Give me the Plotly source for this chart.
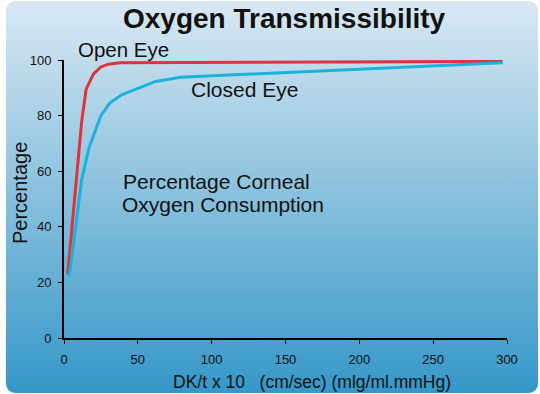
import base64
import plotly.graph_objects as go

# ---- data ----
open_x = [2.5, 12, 15, 20, 25, 30, 38, 297]
open_y = [23, 78, 89.5, 95, 97.5, 98.5, 99, 99.5]
closed_x = [3.5, 12, 17, 25, 31, 39, 62, 79, 297]
closed_y = [22, 57, 68.5, 80, 84.5, 87.5, 92.3, 93.8, 99]
x_ticks = [0, 50, 100, 150, 200, 250, 300]
y_ticks = [0, 20, 40, 60, 80, 100]

W, H = 540, 394
L, R, T, B = 64, 33, 60, 56
PW, PH = W - L - R, H - T - B

svg = f'''<svg xmlns="http://www.w3.org/2000/svg" width="{W}" height="{H}" viewBox="0 0 {W} {H}" preserveAspectRatio="none">
<defs><linearGradient id="g" x1="0" y1="0" x2="0" y2="1">
<stop offset="0" stop-color="#d9e8f3"/>
<stop offset="0.5" stop-color="#88c0dd"/>
<stop offset="1" stop-color="#3597c8"/>
</linearGradient></defs>
<rect x="6" y="1" width="532" height="392" rx="9" ry="9" fill="url(#g)"/>
</svg>'''
src = "data:image/svg+xml;base64," + base64.b64encode(svg.encode()).decode()

FONT = "Liberation Sans, Arial, Helvetica, sans-serif"

fig = go.Figure()
fig.add_trace(go.Scatter(x=open_x, y=open_y, mode="lines",
                         line=dict(color="#e1313d", width=3), hoverinfo="skip"))
fig.add_trace(go.Scatter(x=closed_x, y=closed_y, mode="lines",
                         line=dict(color="#1bb3dc", width=3), hoverinfo="skip"))

fig.add_layout_image(dict(
    source=src, xref="paper", yref="paper",
    x=-L / PW, y=1 + T / PH, sizex=W / PW, sizey=H / PH,
    xanchor="left", yanchor="top", sizing="stretch", layer="below"))

axis_common = dict(showline=True, linecolor="black", linewidth=2, showgrid=False,
                   zeroline=False, ticks="outside", ticklen=4, tickwidth=1,
                   tickcolor="black", tickfont=dict(family=FONT, size=13, color="#111"))
fig.update_xaxes(range=[0, 300], tickvals=x_ticks, ticklabelstandoff=4, **axis_common)
fig.update_yaxes(range=[0, 100], tickvals=y_ticks, ticklabelstandoff=4, **axis_common)

def px2paper(xp, yp):
    return (xp - L) / PW, 1 - (yp - T) / PH

annots = [
    ("<b>Oxygen Transmissibility</b>", 284, 18, 28, 0),
    ("Open Eye", 123, 49, 20.5, 0),
    ("Closed Eye", 244, 89, 21, 0),
    ("Percentage Corneal", 216, 181, 21, 0),
    ("Oxygen Consumption", 222.7, 204, 21, 0),
    ("DK/t x 10\u00a0\u00a0\u00a0(cm/sec) (mlg/ml.mmHg)", 311.5, 382, 17.5, 0),
    ("Percentage", 20, 193, 20, -90),
]
for text, xp, yp, size, ang in annots:
    ax, ay = px2paper(xp, yp)
    fig.add_annotation(text=text, x=ax, y=ay, xref="paper", yref="paper",
                       xanchor="center", yanchor="middle", showarrow=False,
                       textangle=ang, font=dict(family=FONT, size=size, color="#111"))

fig.update_layout(width=W, height=H, margin=dict(l=L, r=R, t=T, b=B),
                  paper_bgcolor="white", plot_bgcolor="rgba(0,0,0,0)",
                  showlegend=False)

fig.write_html("out.html", config={"displayModeBar": False},
               post_script="document.body.style.margin='0';document.body.style.overflow='hidden';")
